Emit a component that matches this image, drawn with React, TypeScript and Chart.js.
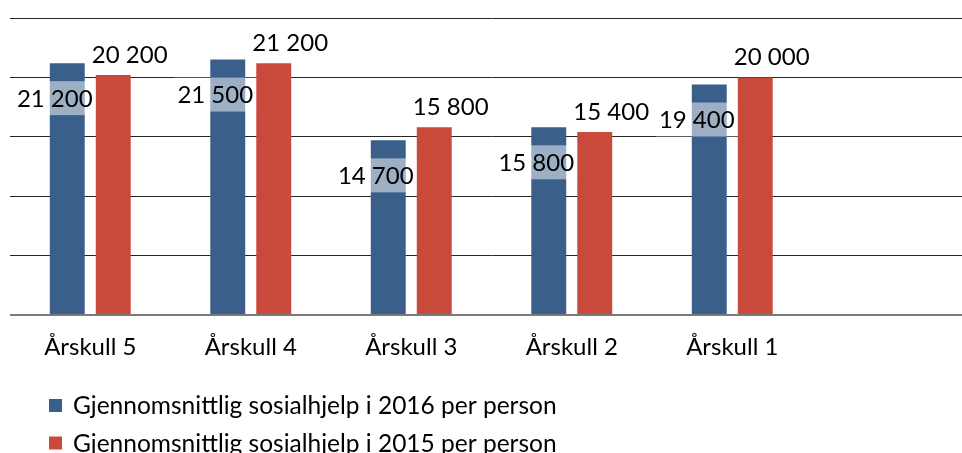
import React, { useEffect, useRef } from 'react';
import { Chart, registerables } from 'chart.js';

Chart.register(...registerables);

const categories = ['Årskull 5', 'Årskull 4', 'Årskull 3', 'Årskull 2', 'Årskull 1', ''];
const series2016: (number | null)[] = [21200, 21500, 14700, 15800, 19400, null];
const series2015: (number | null)[] = [20200, 21200, 15800, 15400, 20000, null];
const seriesLabels = [
  'Gjennomsnittlig sosialhjelp i 2016 per person',
  'Gjennomsnittlig sosialhjelp i 2015 per person',
];
const seriesColors = ['#3A5F8B', '#C9493B'];
const yMin = 0;
const yMax = 25000;
const yStep = 5000;

const FONT = 'Lato';

const fmt = (v: number) => String(v).replace(/\B(?=(\d{3})+(?!\d))/g, ' ');

const labelPlugin = {
  id: 'valueLabels',
  afterDatasetsDraw(chart: any) {
    const ctx = chart.ctx;
    ctx.save();
    ctx.font = `24px ${FONT}`;
    ctx.textAlign = 'center';
    ctx.textBaseline = 'middle';
    chart.data.datasets.forEach((ds: any, di: number) => {
      const meta = chart.getDatasetMeta(di);
      meta.data.forEach((bar: any, i: number) => {
        const v = ds.data[i];
        if (v == null) return;
        const text = fmt(v);
        const w = ctx.measureText(text).width;
        if (di === 0) {
          const cx = bar.x - 12.5;
          const cy = bar.y + 35;
          ctx.fillStyle = 'rgba(255,255,255,0.5)';
          ctx.fillRect(cx - w / 2 - 3, cy - 17, w + 6, 34);
          ctx.fillStyle = '#000';
          ctx.fillText(text, cx, cy + 1);
        } else {
          const cx = bar.x + 16.5;
          const cy = bar.y - 21;
          ctx.fillStyle = '#000';
          ctx.fillText(text, cx, cy + 1);
        }
      });
    });
    ctx.restore();
  },
};

const legendPlugin = {
  id: 'leftLegend',
  afterDraw(chart: any) {
    const ctx = chart.ctx;
    ctx.save();
    ctx.font = `24.5px ${FONT}`;
    ctx.textAlign = 'left';
    ctx.textBaseline = 'middle';
    chart.data.datasets.forEach((ds: any, i: number) => {
      const cy = 405.5 + i * 37.5;
      ctx.fillStyle = ds.backgroundColor;
      ctx.fillRect(49, cy - 6.5, 13, 13);
      ctx.fillStyle = '#000';
      ctx.fillText(ds.label, 73, cy + 1);
    });
    ctx.restore();
  },
};

export default function App() {
  const ref = useRef<HTMLCanvasElement>(null);
  useEffect(() => {
    if (!ref.current) return;
    const chart = new Chart(ref.current, {
      type: 'bar',
      data: {
        labels: categories,
        datasets: [
          { label: seriesLabels[0], data: series2016, backgroundColor: seriesColors[0] },
          { label: seriesLabels[1], data: series2015, backgroundColor: seriesColors[1] },
        ],
      },
      options: {
        animation: false,
        responsive: true,
        maintainAspectRatio: false,
        layout: { padding: { left: 10, right: 12, top: 18, bottom: 105 } },
        datasets: {
          bar: { categoryPercentage: 0.573, barPercentage: 0.76 },
        } as any,
        plugins: {
          legend: { display: false },
          tooltip: { enabled: false },
        },
        scales: {
          x: {
            grid: { display: false, drawTicks: false },
            border: { display: false },
            ticks: { font: { family: FONT, size: 24 }, color: '#000', padding: 18, maxRotation: 0, autoSkip: false },
            afterFit: (s: any) => { s.height = 60; },
          },
          y: {
            min: yMin,
            max: yMax,
            ticks: { display: false, stepSize: yStep },
            border: { display: false },
            grid: {
              drawTicks: false,
              color: (c: any) => (c.tick && c.tick.value === 0 ? '#7a7a7a' : '#262626'),
              lineWidth: (c: any) => (c.tick && c.tick.value === 0 ? 2 : 1),
            },
            afterFit: (s: any) => { s.width = 0; },
          },
        },
      },
      plugins: [labelPlugin, legendPlugin],
    });
    return () => chart.destroy();
  }, []);
  return (
    <div style={{ position: 'fixed', left: 0, top: 0, width: 962, height: 453, overflow: 'hidden', background: '#fff' }}>
      <div style={{ position: 'absolute', left: 0, top: 0, width: 985, height: 480 }}>
        <canvas ref={ref} />
      </div>
    </div>
  );
}
